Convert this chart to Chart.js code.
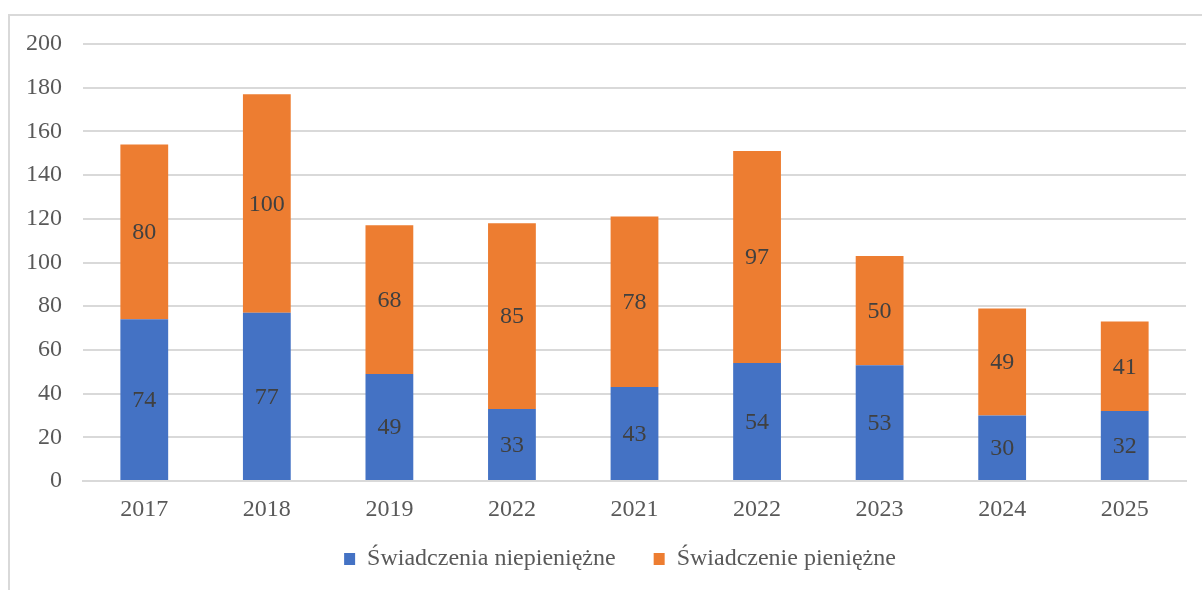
<!DOCTYPE html>
<html>
<head>
<meta charset="utf-8">
<script src="https://cdn.jsdelivr.net/npm/chart.js@4/dist/chart.umd.min.js"></script>
<style>
html,body{margin:0;padding:0;background:#fff;overflow:hidden;}
#wrap{position:relative;width:1202px;height:590px;}
#frame{position:absolute;left:8px;top:14px;width:1300px;height:700px;border:2px solid #D9D9D9;box-sizing:border-box;}
#c{position:absolute;left:0;top:0;}
</style>
</head>
<body>
<div id="wrap">
<div id="frame"></div>
<canvas id="c" width="1202" height="590"></canvas>
</div>
<script>
const categories = ['2017','2018','2019','2022','2021','2022','2023','2024','2025'];
const niepieniezne = [74,77,49,33,43,54,53,30,32];
const pieniezne = [80,100,68,85,78,97,50,49,41];
const seriesNames = ['Świadczenia niepieniężne','Świadczenie pieniężne'];
const yTicks = {min:0, max:200, step:20};

const FONT = "'Liberation Serif','Times New Roman',serif";

const labelPlugin = {
  id:'segLabels',
  afterLayout(chart){
    // nudge the legend block to the reference position
    const lg = chart.legend;
    if (lg) { lg.left += 27; lg.right += 27; lg.top -= 9; lg.bottom -= 9; }
  },
  afterDatasetsDraw(chart){
    const ctx = chart.ctx;
    ctx.save();
    ctx.font = '24px ' + FONT;
    ctx.fillStyle = '#404040';
    ctx.textAlign = 'center';
    ctx.textBaseline = 'middle';
    chart.data.datasets.forEach((ds, di) => {
      const meta = chart.getDatasetMeta(di);
      meta.data.forEach((bar, i) => {
        const y = (bar.y + bar.base) / 2;
        ctx.fillText(String(ds.data[i]), bar.x, y + 1);
      });
    });
    ctx.restore();
  }
};

new Chart(document.getElementById('c'), {
  type:'bar',
  data:{
    labels: categories,
    datasets:[
      {label: seriesNames[0], data: niepieniezne, backgroundColor:'#4472C4', borderWidth:0},
      {label: seriesNames[1], data: pieniezne, backgroundColor:'#ED7D31', borderWidth:0}
    ]
  },
  options:{
    responsive:false,
    animation:false,
    devicePixelRatio:1,
    layout:{padding:{left:0,right:16,top:44,bottom:0}},
    datasets:{bar:{categoryPercentage:1, barPercentage:0.39}},
    plugins:{
      legend:{
        position:'bottom',
        labels:{
          font:{family:FONT,size:24},
          color:'#595959',
          boxWidth:11, boxHeight:12,
          padding:38
        }
      },
      tooltip:{enabled:false}
    },
    scales:{
      x:{
        stacked:true,
        grid:{display:false, drawTicks:false},
        border:{display:true,color:'#D9D9D9',width:2},
        ticks:{font:{family:FONT,size:24},color:'#595959',padding:14},
        afterFit(s){ s.height = 37; }
      },
      y:{
        stacked:true,
        min:yTicks.min, max:yTicks.max,
        grid:{color:'#D9D9D9', lineWidth:2, drawTicks:false},
        border:{display:false},
        ticks:{stepSize:yTicks.step,font:{family:FONT,size:24},color:'#595959',padding:21},
        afterFit(s){ s.width = 83; }
      }
    }
  },
  plugins:[labelPlugin]
});
</script>
</body>
</html>
